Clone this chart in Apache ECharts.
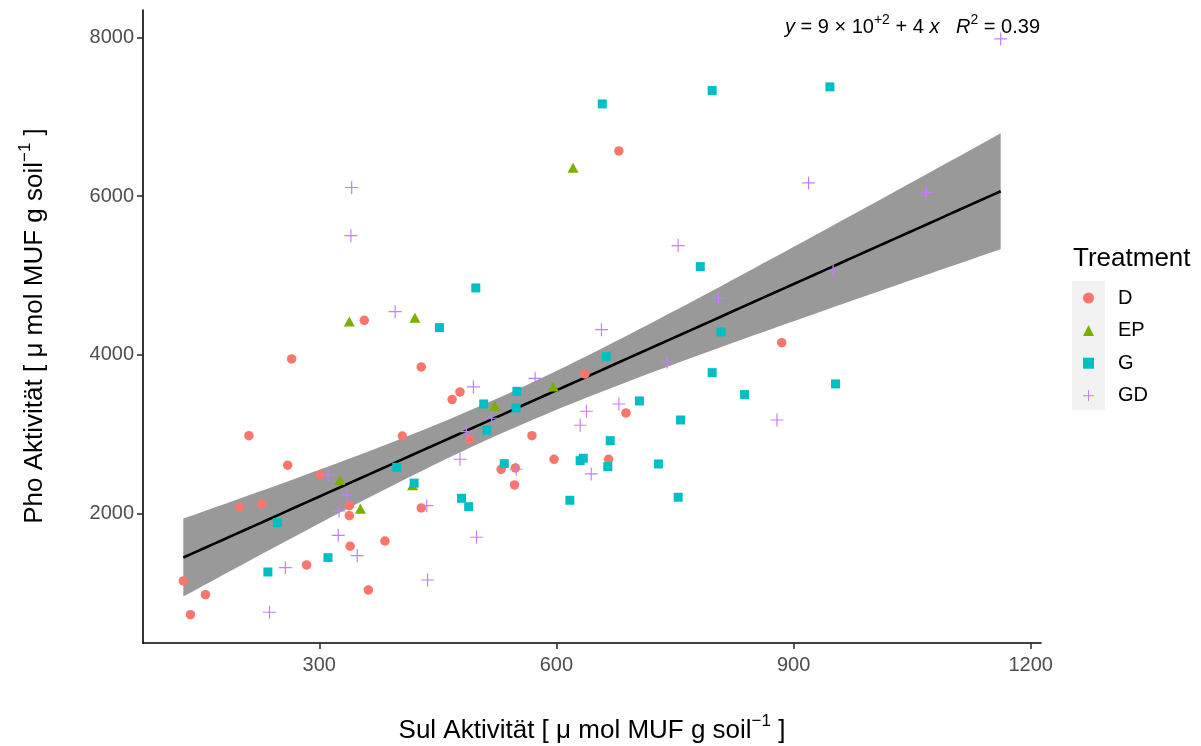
<!DOCTYPE html>
<html>
<head>
<meta charset="utf-8">
<script src="https://cdn.jsdelivr.net/npm/echarts@6/dist/echarts.min.js"></script>
<style>
  html, body { margin: 0; padding: 0; background: #ffffff; }
  #chart { width: 1201px; height: 746px; }
</style>
</head>
<body>
<div id="chart"></div>
<script>
// Treatment groups
const treatments = ['D', 'EP', 'G', 'GD'];

// Sulfatase (x) and phosphatase (y) activity per treatment
const sulD  = [128, 137, 156, 199, 211, 227, 260, 265, 284, 301, 338, 338, 339, 357, 362, 383,
               405, 429, 429, 468, 478, 490, 530, 548, 547, 569, 597, 636, 666, 679, 688, 885];
const phoD  = [1146, 720, 973, 2076, 2979, 2117, 2606, 3947, 1348, 2483, 2096, 1970, 1584, 4435, 1032, 1650,
               2975, 3846, 2067, 3434, 3531, 2929, 2555, 2572, 2357, 2979, 2681, 3758, 2681, 6572, 3266, 4153];

const sulEP = [326, 338, 352, 418, 421, 522, 596, 621];
const phoEP = [2420, 4420, 2058, 2353, 4468, 3358, 3598, 6360];

const sulG  = [235, 247, 311, 398, 420, 452, 480, 489, 498, 508, 512, 534, 549, 550, 617, 630,
               634, 658, 663, 665, 668, 705, 729, 754, 757, 782, 797, 797, 808, 838, 946, 953];
const phoG  = [1259, 1881, 1440, 2580, 2380, 4342, 2189, 2083, 4843, 3379, 3047, 2626, 3329, 3539, 2164, 2664,
               2694, 7165, 3976, 2588, 2916, 3417, 2622, 2202, 3177, 5112, 7333, 3774, 4288, 3497, 7380, 3632];

const sulGD = [237, 257, 311, 324, 325, 335, 340, 341, 348, 396, 436, 437, 478, 486, 495, 499,
               518, 549, 573, 630, 638, 644, 657, 679, 740, 754, 805, 879, 919, 950, 1068, 1162];
const phoGD = [751, 1314, 2483, 1722, 2029, 2231, 5503, 6110, 1465, 4544, 2096, 1158, 2681, 3030, 3594, 1697,
               3199, 2555, 3703, 3110, 3287, 2496, 4317, 3379, 3909, 5377, 4713, 3177, 6168, 5057, 6045, 7985];

// Axis tick values
const xTicks = [300, 600, 900, 1200];
const yTicks = [2000, 4000, 6000, 8000];

const sulByTreatment = [sulD, sulEP, sulG, sulGD];
const phoByTreatment = [phoD, phoEP, phoG, phoGD];

const colors = ['#F8766D', '#7CAE00', '#00BFC4', '#C77CFF'];
const symbols = ['circle', 'triangle', 'rect',
  'path://M4.55,0H5.45V4.55H10V5.45H5.45V10H4.55V5.45H0V4.55H4.55Z'];
const symbolSizes = [9.5, [11, 10], 9, 13];

const FONT = '"Liberation Sans", Arial, sans-serif';

// ---- ordinary least squares fit with 95% confidence band ----
const allX = [].concat(...sulByTreatment);
const allY = [].concat(...phoByTreatment);
const n = allX.length;
const xbar = allX.reduce((a, b) => a + b, 0) / n;
const ybar = allY.reduce((a, b) => a + b, 0) / n;
let sxx = 0, sxy = 0, syy = 0;
for (let i = 0; i < n; i++) {
  sxx += (allX[i] - xbar) ** 2;
  sxy += (allX[i] - xbar) * (allY[i] - ybar);
  syy += (allY[i] - ybar) ** 2;
}
const slope = sxy / sxx;
const intercept = ybar - slope * xbar;
let sse = 0;
for (let i = 0; i < n; i++) sse += (allY[i] - intercept - slope * allX[i]) ** 2;
const r2 = 1 - sse / syy;
const sigma = Math.sqrt(sse / (n - 2));

function tQuantile975(df) {
  const z = 1.959964, z3 = z * z * z, z5 = z3 * z * z;
  return z + (z3 + z) / (4 * df) + (5 * z5 + 16 * z3 + 3 * z) / (96 * df * df);
}
const tq = tQuantile975(n - 2);

const xMinData = Math.min(...allX), xMaxData = Math.max(...allX);
const fitLine = [], bandUpper = [], bandLower = [];
for (let k = 0; k < 80; k++) {
  const x = xMinData + (xMaxData - xMinData) * k / 79;
  const yHat = intercept + slope * x;
  const se = sigma * Math.sqrt(1 / n + (x - xbar) ** 2 / sxx);
  fitLine.push([x, yHat]);
  bandUpper.push([x, yHat + tq * se]);
  bandLower.push([x, yHat - tq * se]);
}

// equation label text built from the fit
function sciParts(v) {
  const e = Math.floor(Math.log10(Math.abs(v)));
  const m = Math.round(v / Math.pow(10, e));
  return { m, e };
}
const ip = sciParts(intercept);
const slopeTxt = String(Number(slope.toPrecision(1)));
const eqText = '{i|y}{n| = ' + ip.m + ' × 10}{s|' + (ip.e >= 0 ? '+' : '') + ip.e + '}{n| + ' + slopeTxt + ' }{i|x}{n|   }' +
               '{i|R}{s|2}{n| = ' + r2.toFixed(2) + '}';

const scatterSeries = treatments.map((t, i) => ({
  name: t,
  type: 'scatter',
  symbol: symbols[i],
  symbolSize: symbolSizes[i],
  itemStyle: { color: colors[i], opacity: 1 },
  data: sulByTreatment[i].map((x, j) => [x, phoByTreatment[i][j]]),
  z: 5,
  silent: true
}));

const plainNumber = v => String(v);

const chart = echarts.init(document.getElementById('chart'), null, { renderer: 'canvas' });

chart.setOption({
  animation: false,
  backgroundColor: '#ffffff',
  grid: { left: 143, top: 10, width: 898, height: 633, containLabel: false },
  xAxis: {
    type: 'value', min: 77, max: 1213,
    axisLine: { show: true, onZero: false, lineStyle: { color: '#000', width: 1.6 } },
    axisTick: { show: true, length: 6, lineStyle: { color: '#333', width: 1.6 }, customValues: xTicks },
    axisLabel: { customValues: xTicks, formatter: plainNumber, margin: 12, fontSize: 20, color: '#4D4D4D', fontFamily: FONT },
    splitLine: { show: false }
  },
  yAxis: {
    type: 'value', min: 363, max: 8350,
    axisLine: { show: true, onZero: false, lineStyle: { color: '#000', width: 1.6 } },
    axisTick: { show: true, length: 6, lineStyle: { color: '#333', width: 1.6 }, customValues: yTicks },
    axisLabel: { customValues: yTicks, formatter: plainNumber, margin: 9, fontSize: 20, color: '#4D4D4D', fontFamily: FONT },
    splitLine: { show: false }
  },
  legend: {
    data: treatments,
    orient: 'vertical',
    left: 1083, top: 288,
    itemWidth: 11, itemHeight: 11, itemGap: 12.6,
    padding: 0,
    textStyle: { fontSize: 20, color: '#000', fontFamily: FONT, padding: [0, 0, 0, 19] },
    selectedMode: false
  },
  graphic: [
    { type: 'rect', left: 1072, top: 281, z: -1, shape: { width: 33, height: 129 }, style: { fill: '#F2F2F2' } },
    { type: 'text', left: 1073, top: 246, style: { text: 'Treatment', font: '26px ' + FONT, fill: '#000' } },
    {
      type: 'text', x: 1040, y: 27,
      style: {
        text: eqText, align: 'right', verticalAlign: 'middle', fill: '#000',
        rich: {
          n: { fontSize: 20, fontFamily: FONT, fill: '#000', lineHeight: 28 },
          i: { fontSize: 20, fontFamily: FONT, fontStyle: 'italic', fill: '#000', lineHeight: 28 },
          s: { fontSize: 14, fontFamily: FONT, fill: '#000', lineHeight: 14, verticalAlign: 'top' }
        }
      }
    },
    {
      type: 'text', x: 592, y: 731,
      style: {
        text: '{t|Sul Aktivität [ μ mol MUF g soil}{s|−1}{t| ]}', align: 'center', verticalAlign: 'middle',
        rich: {
          t: { fontSize: 26, fontFamily: FONT, fill: '#000', lineHeight: 36 },
          s: { fontSize: 17, fontFamily: FONT, fill: '#000', lineHeight: 17, verticalAlign: 'top' }
        }
      }
    },
    {
      type: 'text', x: 35, y: 326, rotation: Math.PI / 2,
      style: {
        text: '{t|Pho Aktivität [ μ mol MUF g soil}{s|−1}{t| ]}', align: 'center', verticalAlign: 'middle',
        rich: {
          t: { fontSize: 26, fontFamily: FONT, fill: '#000', lineHeight: 36 },
          s: { fontSize: 17, fontFamily: FONT, fill: '#000', lineHeight: 17, verticalAlign: 'top' }
        }
      }
    }
  ],
  series: [
    {
      type: 'custom',
      silent: true,
      z: 1,
      data: [fitLine[0]],
      renderItem: function (params, api) {
        const pts = bandUpper.map(p => api.coord(p))
          .concat(bandLower.slice().reverse().map(p => api.coord(p)));
        return { type: 'polygon', shape: { points: pts }, style: { fill: '#999999' } };
      }
    },
    {
      type: 'line',
      data: fitLine,
      symbol: 'none',
      silent: true,
      z: 2,
      lineStyle: { color: '#000', width: 2.6 }
    }
  ].concat(scatterSeries)
});
</script>
</body>
</html>
